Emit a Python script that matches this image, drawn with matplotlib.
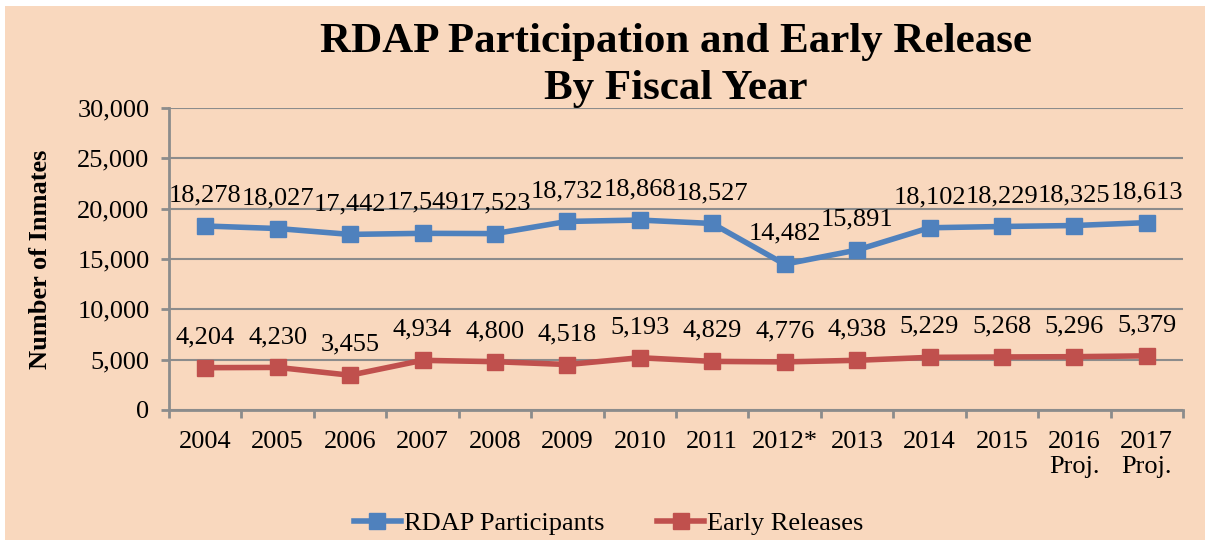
import matplotlib.pyplot as plt
from matplotlib.patches import Rectangle

years = ["2004", "2005", "2006", "2007", "2008", "2009", "2010", "2011",
         "2012*", "2013", "2014", "2015", "2016\nProj.", "2017\nProj."]
rdap = [18278, 18027, 17442, 17549, 17523, 18732, 18868, 18527,
        14482, 15891, 18102, 18229, 18325, 18613]
early = [4204, 4230, 3455, 4934, 4800, 4518, 5193, 4829,
         4776, 4938, 5229, 5268, 5296, 5379]

bg = "#F9D8BE"
grid = "#8C8C8C"
plt.rcParams["font.family"] = ["Liberation Serif", "DejaVu Serif"]

fig = plt.figure(figsize=(12.05, 5.4), dpi=100, facecolor="white")
fig.patches.append(Rectangle((5 / 1205, 0), 1, 534 / 540, transform=fig.transFigure,
                             facecolor=bg, edgecolor="none", zorder=-10))

ax = fig.add_axes([169 / 1205, 130 / 540, 1014 / 1205, 302 / 540])
ax.set_facecolor(bg)
x = list(range(len(years)))

ax.plot(x, rdap, color="#4F81BD", lw=4, marker="s", ms=11, label="RDAP Participants", zorder=3)
ax.plot(x, early, color="#C0504D", lw=4, marker="s", ms=11, label="Early Releases", zorder=3)

# legend first, below the plot
leg = fig.legend(loc="lower center", bbox_to_anchor=(0.505, -0.035), ncol=2, frameon=False,
                 fontsize=19, handlelength=1.8, columnspacing=2.0, handletextpad=0.1)

for xi, v in zip(x, rdap):
    ax.annotate(f"{v:,}", (xi, v), xytext=(0, 14), textcoords="offset points",
                ha="center", va="bottom", fontsize=19)
for xi, v in zip(x, early):
    ax.annotate(f"{v:,}", (xi, v), xytext=(0, 14), textcoords="offset points",
                ha="center", va="bottom", fontsize=19)

ax.set_xlim(-0.5, len(years) - 0.5)
ax.set_ylim(0, 30000)
ax.set_yticks(range(0, 30001, 5000))
ax.set_yticklabels([f"{t:,}" for t in range(0, 30001, 5000)], fontsize=19)
ax.set_xticks(x)
ax.set_xticklabels(years, fontsize=19, linespacing=1.2)
ax.tick_params(axis="x", length=0, pad=15)
ax.set_xticks([i + 0.5 for i in range(-1, len(years))], minor=True)
ax.tick_params(axis="x", which="minor", length=6, width=2, color=grid)
ax.tick_params(axis="y", length=6, width=2, color=grid, pad=8)

ax.grid(axis="y", color=grid, lw=1.5)
ax.set_axisbelow(True)
for s in ["top", "right"]:
    ax.spines[s].set_visible(False)
for s in ["left", "bottom"]:
    ax.spines[s].set_color(grid)
    ax.spines[s].set_linewidth(2)

ax.set_ylabel("Number of Inmates", fontsize=19, fontweight="bold", labelpad=18)
ax.set_title("RDAP Participation and Early Release\nBy Fiscal Year", fontsize=31,
             fontweight="bold", linespacing=1.3, pad=2)

fig.savefig("out.png", dpi=100, facecolor="white")
